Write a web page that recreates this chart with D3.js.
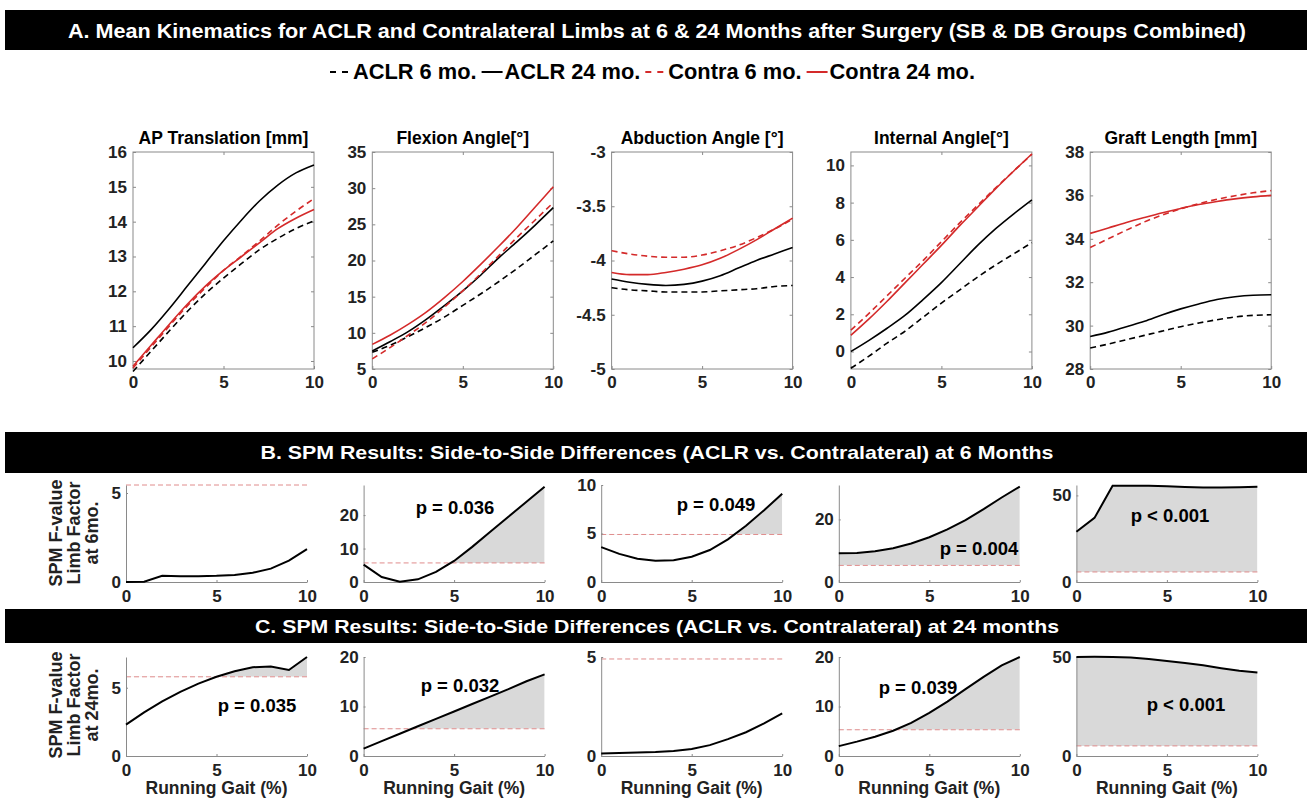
<!DOCTYPE html>
<html>
<head>
<meta charset="utf-8">
<script src="https://cdn.jsdelivr.net/npm/d3@7"></script>
<style>
  body { margin: 0; background: #fff; }
  text { font-family: "Liberation Sans", Arial, Helvetica, sans-serif; font-weight: bold; }
</style>
</head>
<body>
<svg id="chart"></svg>
<script>
const width = 1307, height = 803;
const svg = d3.select('#chart').attr('width', width).attr('height', height);

// ---- data ----
const gait = [0, 1, 2, 3, 4, 5, 6, 7, 8, 9, 10];
const seriesNames = ['ACLR 6 mo.', 'ACLR 24 mo.', 'Contra 6 mo.', 'Contra 24 mo.'];

// each panel: [ACLR 6, ACLR 24, Contra 6, Contra 24]
const apTranslation = [
  [9.70, 10.28, 10.86, 11.42, 11.93, 12.38, 12.80, 13.20, 13.52, 13.80, 14.02],
  [10.38, 10.90, 11.50, 12.15, 12.80, 13.45, 14.05, 14.60, 15.05, 15.40, 15.63],
  [9.80, 10.40, 11.00, 11.58, 12.10, 12.60, 13.02, 13.45, 13.90, 14.30, 14.66],
  [9.85, 10.45, 11.05, 11.63, 12.15, 12.60, 13.00, 13.40, 13.80, 14.10, 14.35]
];
const flexionAngle = [
  [7.3, 8.3, 9.5, 10.8, 12.2, 13.8, 15.4, 17.1, 18.9, 20.8, 22.7],
  [7.5, 8.8, 10.2, 11.9, 13.8, 15.8, 18.0, 20.4, 22.6, 24.9, 27.3],
  [6.4, 8.0, 9.7, 11.5, 13.6, 15.8, 18.2, 20.7, 23.2, 25.6, 28.0],
  [8.4, 9.7, 11.2, 12.9, 14.9, 17.1, 19.5, 22.0, 24.6, 27.4, 30.2]
];
const abductionAngle = [
  [-4.25, -4.27, -4.28, -4.29, -4.29, -4.29, -4.28, -4.27, -4.26, -4.24, -4.23],
  [-4.17, -4.20, -4.22, -4.23, -4.22, -4.19, -4.14, -4.07, -4.00, -3.94, -3.88],
  [-3.91, -3.94, -3.96, -3.97, -3.97, -3.95, -3.91, -3.86, -3.79, -3.71, -3.62],
  [-4.11, -4.13, -4.13, -4.11, -4.08, -4.04, -3.98, -3.90, -3.81, -3.71, -3.61]
];
const internalAngle = [
  [-0.9, -0.25, 0.45, 1.1, 1.85, 2.6, 3.3, 4.0, 4.65, 5.25, 5.85],
  [0.0, 0.6, 1.25, 1.95, 2.8, 3.7, 4.7, 5.7, 6.6, 7.4, 8.15],
  [1.15, 2.05, 3.0, 3.95, 4.9, 5.9, 6.9, 7.85, 8.8, 9.7, 10.6],
  [0.87, 1.75, 2.7, 3.7, 4.7, 5.7, 6.75, 7.75, 8.75, 9.7, 10.62]
];
const graftLength = [
  [28.97, 29.15, 29.35, 29.55, 29.75, 29.95, 30.12, 30.27, 30.40, 30.47, 30.50],
  [29.50, 29.70, 29.95, 30.20, 30.50, 30.77, 31.00, 31.20, 31.33, 31.40, 31.42],
  [33.60, 34.00, 34.40, 34.78, 35.10, 35.38, 35.62, 35.82, 35.98, 36.12, 36.22],
  [34.25, 34.50, 34.75, 34.98, 35.20, 35.40, 35.58, 35.72, 35.84, 35.93, 36.00]
];
const kinTitles = ['AP Translation [mm]', 'Flexion Angle[°]', 'Abduction Angle [°]', 'Internal Angle[°]', 'Graft Length [mm]'];
const kinData = [apTranslation, flexionAngle, abductionAngle, internalAngle, graftLength];
const kinDomains = [[9.77, 16], [5, 35], [-5, -3], [-0.94, 10.72], [28, 38]];
const kinTicks = [
  [10, 11, 12, 13, 14, 15, 16],
  [5, 10, 15, 20, 25, 30, 35],
  [-5, -4.5, -4, -3.5, -3],
  [0, 2, 4, 6, 8, 10],
  [28, 30, 32, 34, 36, 38]
];

// SPM F-values, 6 months
const spm6 = [
  [0.0, 0.02, 0.35, 0.33, 0.33, 0.35, 0.40, 0.52, 0.75, 1.20, 1.85],
  [5.2, 1.5, 0.1, 0.8, 3.0, 6.3, 10.5, 15.0, 19.5, 24.0, 28.5],
  [3.6, 2.9, 2.4, 2.2, 2.25, 2.6, 3.3, 4.4, 5.8, 7.4, 9.1],
  [9.2, 9.3, 9.8, 10.8, 12.3, 14.3, 16.8, 19.8, 23.3, 27.0, 30.5],
  [29, 37, 55.5, 55.6, 55.5, 55.3, 54.8, 54.5, 54.5, 54.7, 55.0]
];
const thresh6 = [5.45, 5.7, 4.9, 5.3, 5.8];
const pText6 = ['', 'p = 0.036', 'p = 0.049', 'p = 0.004', 'p < 0.001'];
const spmDomain6 = [[0, 5.45], [0, 29], [0, 10], [0, 31], [0, 56]];
const spmTicks6 = [[0, 5], [0, 10, 20], [0, 5, 10], [0, 20], [0, 50]];

// SPM F-values, 24 months
const spm24 = [
  [2.3, 3.2, 4.0, 4.7, 5.3, 5.8, 6.2, 6.5, 6.55, 6.3, 7.25],
  [1.5, 3.0, 4.5, 6.0, 7.5, 9.0, 10.5, 12.0, 13.5, 15.1, 16.5],
  [0.12, 0.15, 0.18, 0.2, 0.25, 0.35, 0.55, 0.85, 1.2, 1.65, 2.15],
  [2.0, 2.9, 3.9, 5.1, 6.7, 8.7, 11.0, 13.5, 16.0, 18.3, 20.0],
  [50, 50.1, 50, 49.7, 49.0, 48.0, 47.0, 45.8, 44.3, 43.0, 42.2]
];
const thresh24 = [5.8, 5.5, 4.9, 5.3, 5.1];
const pText24 = ['p = 0.035', 'p = 0.032', '', 'p = 0.039', 'p < 0.001'];
const spmDomain24 = [[0, 7.25], [0, 20], [0, 5], [0, 20], [0, 50]];
const spmTicks24 = [[0, 5], [0, 10, 20], [0, 5], [0, 10, 20], [0, 50]];

// ---- layout / style ----
const axisGray = '#8a8a8a';
const red = '#d42a2a';
const lineColor = [ '#000', '#000', red, red ];
const lineDash = [ '6,4', null, '6,4', null ];
const plain = d => String(d);

// header bars
function header(y, h, label, size, len) {
  svg.append('rect').attr('x', 5).attr('y', y).attr('width', width - 5).attr('height', h).attr('fill', '#000');
  svg.append('text')
    .attr('x', 657).attr('y', y + h / 2 + size * 0.36)
    .attr('text-anchor', 'middle')
    .attr('fill', '#fff')
    .style('font-size', size + 'px')
    .attr('textLength', len).attr('lengthAdjust', 'spacingAndGlyphs')
    .text(label);
}
header(10, 40, 'A. Mean Kinematics for ACLR and Contralateral Limbs at 6 & 24 Months after Surgery (SB & DB Groups Combined)', 21, 1178);
header(432, 41, 'B. SPM Results: Side-to-Side Differences (ACLR vs. Contralateral) at 6 Months', 19, 793);
header(609, 34, 'C. SPM Results: Side-to-Side Differences (ACLR vs. Contralateral) at 24 months', 19, 804);

// legend: condensed text squeezed to the reference width (330..975)
const legend = svg.append('g');
const legendTexts = seriesNames.map(name =>
  legend.append('text').attr('y', 79).style('font-size', '22px').text(name));
const natural = legendTexts.map(t => t.node().getComputedTextLength());
const squeeze = (645 - 4 * 23 - 3 * 5) / d3.sum(natural);
let lx = 330;
seriesNames.forEach((name, i) => {
  legend.append('line')
    .attr('x1', lx).attr('x2', lx + 21).attr('y1', 72).attr('y2', 72)
    .attr('stroke', lineColor[i]).attr('stroke-width', 2)
    .attr('stroke-dasharray', lineDash[i] ? '6,6' : null);
  const len = natural[i] * squeeze;
  legendTexts[i].attr('x', lx + 23).attr('textLength', len).attr('lengthAdjust', 'spacingAndGlyphs');
  lx += 23 + len + 5;
});

// ---- kinematics row ----
const kTop = 152, kBottom = 369, kW = 181;
kinData.forEach((series, i) => {
  const left = 133 + i * 239.3;
  const x = d3.scaleLinear().domain([0, 10]).range([left, left + kW]);
  const y = d3.scaleLinear().domain(kinDomains[i]).range([kBottom, kTop]);
  const g = svg.append('g');

  g.append('rect').attr('x', left).attr('y', kTop).attr('width', kW).attr('height', kBottom - kTop)
    .attr('fill', '#fff').attr('stroke', axisGray).attr('stroke-width', 1);

  const ax = g.append('g').attr('transform', `translate(0,${kBottom})`)
    .call(d3.axisBottom(x).tickValues([0, 5, 10]).tickFormat(plain).tickSizeInner(-3).tickSizeOuter(0).tickPadding(7));
  ax.select('.domain').remove();
  ax.selectAll('line').attr('stroke', axisGray);
  ax.selectAll('text').style('font-size', '17px').attr('fill', '#222');

  const ay = g.append('g').attr('transform', `translate(${left},0)`)
    .call(d3.axisLeft(y).tickValues(kinTicks[i]).tickFormat(plain).tickSizeInner(-3).tickSizeOuter(0).tickPadding(6));
  ay.select('.domain').remove();
  ay.selectAll('line').attr('stroke', axisGray);
  ay.selectAll('text').style('font-size', '17px').attr('fill', '#222');

  const at = g.append('g').attr('transform', `translate(0,${kTop})`)
    .call(d3.axisTop(x).tickValues([5]).tickSizeInner(-3).tickSizeOuter(0).tickFormat(''));
  at.select('.domain').remove();
  at.selectAll('line').attr('stroke', axisGray);
  const ar = g.append('g').attr('transform', `translate(${left + kW},0)`)
    .call(d3.axisRight(y).tickValues(kinTicks[i]).tickSizeInner(-3).tickSizeOuter(0).tickFormat(''));
  ar.select('.domain').remove();
  ar.selectAll('line').attr('stroke', axisGray);

  const line = d3.line().x((d, j) => x(gait[j])).y(d => y(d)).curve(d3.curveMonotoneX);
  series.forEach((vals, s) => {
    g.append('path').attr('d', line(vals))
      .attr('fill', 'none').attr('stroke', lineColor[s]).attr('stroke-width', 1.6)
      .attr('stroke-dasharray', lineDash[s]);
  });

  g.append('text').attr('x', left + kW / 2).attr('y', 144)
    .attr('text-anchor', 'middle').style('font-size', '17.5px').text(kinTitles[i]);
});

// ---- SPM rows ----
const pPos6 = [null, [455, 514], [716, 511], [979, 555], [1170, 522]];
const pPos24 = [[257, 712], [460, 692], null, [918, 694], [1186, 711]];

function spmRow(data, thr, domains, ticks, pText, pPos, top, bottom, rowId, xLabel) {
  data.forEach((vals, i) => {
    const left = 126 + i * 237.6, w = 181;
    const x = d3.scaleLinear().domain([0, 10]).range([left, left + w]);
    const y = d3.scaleLinear().domain(domains[i]).range([bottom, top]);
    const g = svg.append('g');
    const clipId = `clip-${rowId}-${i}`;

    g.append('clipPath').attr('id', clipId).append('rect')
      .attr('x', left).attr('y', top - 5).attr('width', w).attr('height', y(thr[i]) - top + 5);

    if (pText[i]) {
      const area = d3.area().x((d, j) => x(gait[j])).y0(y(thr[i])).y1(d => y(d));
      g.append('path').attr('d', area(vals)).attr('fill', '#d9d9d9').attr('clip-path', `url(#${clipId})`);
    }

    g.append('line').attr('x1', left).attr('x2', left + w).attr('y1', y(thr[i])).attr('y2', y(thr[i]))
      .attr('stroke', '#e08c8c').attr('stroke-width', 1).attr('stroke-dasharray', '5,3');

    const ax = g.append('g').attr('transform', `translate(0,${bottom})`)
      .call(d3.axisBottom(x).tickValues([0, 5, 10]).tickFormat(plain).tickSizeInner(-2).tickSizeOuter(0).tickPadding(8));
    ax.selectAll('path, line').attr('stroke', axisGray);
    ax.selectAll('text').style('font-size', '17px').attr('fill', '#222');

    const ay = g.append('g').attr('transform', `translate(${left},0)`)
      .call(d3.axisLeft(y).tickValues(ticks[i]).tickFormat(plain).tickSizeInner(-2).tickSizeOuter(0).tickPadding(5));
    ay.selectAll('path, line').attr('stroke', axisGray);
    ay.selectAll('text').style('font-size', '17px').attr('fill', '#222');

    const line = d3.line().x((d, j) => x(gait[j])).y(d => y(d));
    g.append('path').attr('d', line(vals)).attr('fill', 'none').attr('stroke', '#000').attr('stroke-width', 2);

    if (pText[i]) {
      g.append('text').attr('x', pPos[i][0]).attr('y', pPos[i][1]).attr('text-anchor', 'middle')
        .style('font-size', '18.5px').text(pText[i]);
    }
    if (xLabel) {
      g.append('text').attr('x', left + w / 2).attr('y', 794).attr('text-anchor', 'middle')
        .style('font-size', '17.5px').attr('fill', '#222').text('Running Gait (%)');
    }
  });
}
spmRow(spm6, thresh6, spmDomain6, spmTicks6, pText6, pPos6, 485, 582, 'b', false);
spmRow(spm24, thresh24, spmDomain24, spmTicks24, pText24, pPos24, 657, 756, 'c', true);

// y labels for SPM rows
function yLabel(cy, lines) {
  const xs = [56, 74, 92];
  lines.forEach((t, k) => {
    svg.append('text')
      .attr('transform', `translate(${xs[k] + 6},${cy}) rotate(-90)`)
      .attr('text-anchor', 'middle').style('font-size', '18px').attr('fill', '#222').text(t);
  });
}
yLabel(533, ['SPM F-value', 'Limb Factor', 'at 6mo.']);
yLabel(705, ['SPM F-value', 'Limb Factor', 'at 24mo.']);
</script>
</body>
</html>
